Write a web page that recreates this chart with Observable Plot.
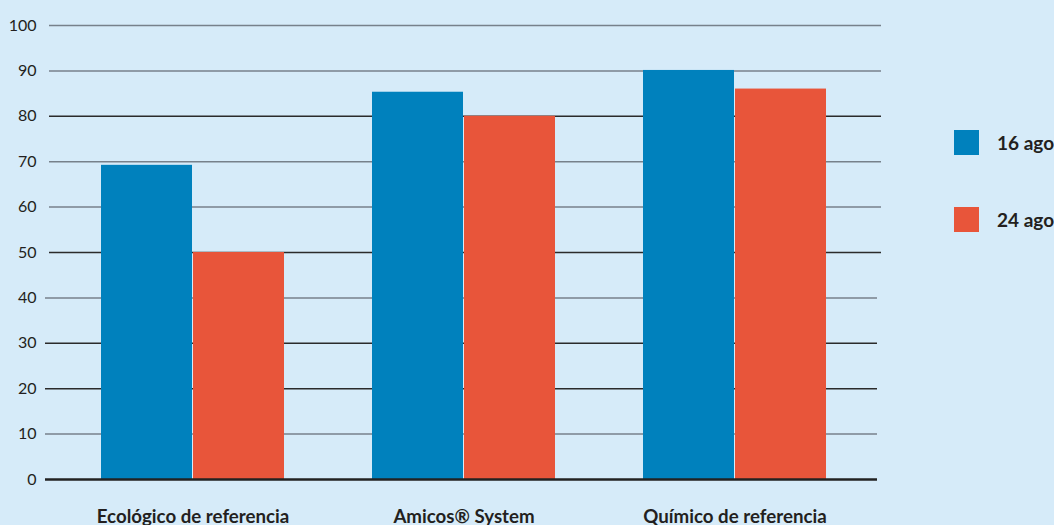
<!DOCTYPE html>
<html>
<head>
<meta charset="utf-8">
<script src="https://cdn.jsdelivr.net/npm/d3@7"></script>
<script src="https://cdn.jsdelivr.net/npm/@observablehq/plot@0.6"></script>
<style>
  html, body { margin: 0; padding: 0; background: #d6ebf9; overflow: hidden; }
  #wrap { position: relative; width: 1054px; height: 525px; font-family: Lato, "Open Sans", sans-serif; }
  #wrap svg { display: block; position: absolute; left: 0; top: 0; }
  .legend-item { position: absolute; display: flex; align-items: center; white-space: nowrap; }
  .legend-item .sw { width: 25px; height: 25px; margin-right: 18px; }
  .legend-item span { font-weight: bold; font-size: 19px; color: #231f20; }
</style>
</head>
<body>
<div id="wrap"></div>
<script>
const categories = ["Ecológico de referencia", "Amicos® System", "Químico de referencia"];
const series = ["16 ago", "24 ago"];
const values16ago = [69.2, 85.3, 90.1];
const values24ago = [50, 80, 86];
const seriesColors = ["#0081bd", "#e8553a"];
const yTicks = [0, 10, 20, 30, 40, 50, 60, 70, 80, 90, 100];

const rows = [];
categories.forEach((c, i) => {
  rows.push({category: c, series: series[0], value: values16ago[i]});
  rows.push({category: c, series: series[1], value: values24ago[i]});
});

const darkLines = new Set([80, 50, 30, 20]);
const upper = yTicks.filter(t => t >= 50);
const lower = yTicks.filter(t => t > 0 && t < 50);
const gridStroke = d => darkLines.has(d) ? "#2b2b2b" : "#77818b";

const common = {
  width: 1054,
  height: 525,
  marginTop: 25,
  marginBottom: 46,
  marginLeft: 57,
  marginRight: 184,
  style: {background: "transparent", fontFamily: "Lato, 'Open Sans', sans-serif", color: "#231f20"}
};
const yScale = {domain: [0, 100], ticks: yTicks, label: null};

// Layer 1: grid + y axis
const gridLayer = Plot.plot({
  ...common,
  x: {axis: null},
  y: {...yScale, axis: null},
  marks: [
    Plot.ruleY(upper, {y: d => d, stroke: gridStroke, strokeWidth: 1.5, insetLeft: -8, insetRight: -11}),
    Plot.ruleY(lower, {y: d => d, stroke: gridStroke, strokeWidth: 1.5, insetLeft: -12, insetRight: -7}),
    Plot.axisY({ticks: yTicks, tickSize: 0, tickPadding: 21, fontSize: 16, color: "#231f20"})
  ]
});

// Layer 2: bars + category labels
const barLayer = Plot.plot({
  ...common,
  fx: {domain: categories, paddingInner: 0, paddingOuter: 0, axis: null, label: null},
  x: {domain: series, paddingInner: 0.011, paddingOuter: 0.478, axis: null, label: null},
  y: {...yScale, axis: null},
  color: {domain: series, range: seriesColors},
  marks: [
    Plot.barY(rows, {fx: "category", x: "series", y: "value", fill: "series"}),
    Plot.text(categories, {fx: d => d, text: d => d, frameAnchor: "bottom", dy: 38, lineAnchor: "middle", fontWeight: "bold", fontSize: 18.7, fill: "#231f20"})
  ]
});

// Layer 3: baseline
const baseLayer = Plot.plot({
  ...common,
  x: {axis: null},
  y: {...yScale, axis: null},
  marks: [
    Plot.ruleY([0], {stroke: "#222222", strokeWidth: 2.6, insetLeft: -12, insetRight: -7})
  ]
});

const wrap = document.getElementById("wrap");
wrap.appendChild(gridLayer);
wrap.appendChild(barLayer);
wrap.appendChild(baseLayer);

const legendTops = [132, 209];
series.forEach((s, i) => {
  const item = document.createElement("div");
  item.className = "legend-item";
  item.style.left = "954px";
  item.style.top = (legendTops[i] - 2) + "px";
  const sw = document.createElement("div");
  sw.className = "sw";
  sw.style.background = seriesColors[i];
  const label = document.createElement("span");
  label.textContent = s;
  item.appendChild(sw);
  item.appendChild(label);
  wrap.appendChild(item);
});
</script>
</body>
</html>
